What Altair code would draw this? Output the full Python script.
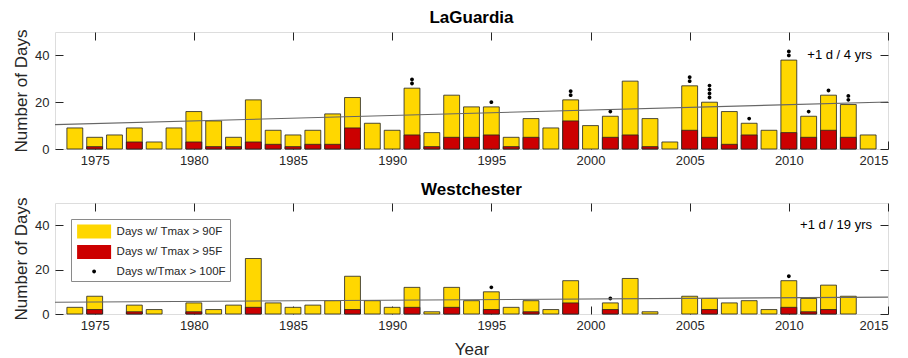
import altair as alt
import pandas as pd

years = list(range(1974, 2015))
station_names = ["LaGuardia", "Westchester"]
series_labels = ["Days w/ Tmax > 90F", "Days w/ Tmax > 95F", "Days w/Tmax > 100F"]
trend_labels = ["+1 d / 4 yrs", "+1 d / 19 yrs"]

lga_90 = [9, 5, 6, 9, 3, 9, 16, 12, 5, 21, 8, 6, 8, 15, 22, 11, 8, 26, 7, 23, 18,
          18, 5, 13, 9, 21, 10, 14, 29, 13, 3, 27, 20, 16, 11, 8, 38, 14, 23, 19, 6]
lga_95 = [0, 1, 0, 3, 0, 0, 3, 1, 1, 3, 2, 1, 2, 2, 9, 0, 0, 6, 1, 5, 5,
          6, 1, 5, 0, 12, 0, 5, 6, 1, 0, 8, 5, 2, 6, 0, 7, 5, 8, 5, 0]
lga_100 = [0, 0, 0, 0, 0, 0, 0, 0, 0, 0, 0, 0, 0, 0, 0, 0, 0, 2, 0, 0, 0,
           1, 0, 0, 0, 2, 0, 1, 0, 0, 0, 2, 4, 0, 1, 0, 2, 1, 1, 2, 0]

wst_90 = [3, 8, 0, 4, 2, 0, 5, 2, 4, 25, 5, 3, 4, 6, 17, 6, 3, 12, 1, 12, 6,
          10, 3, 6, 2, 15, 0, 5, 16, 1, 0, 8, 7, 5, 6, 2, 15, 7, 13, 8, 0]
wst_95 = [0, 2, 0, 1, 0, 0, 1, 0, 0, 3, 0, 0, 0, 0, 2, 0, 0, 3, 0, 3, 0,
          2, 0, 1, 0, 5, 0, 2, 0, 0, 0, 0, 2, 0, 0, 0, 3, 1, 2, 0, 0]
wst_100 = [0, 0, 0, 0, 0, 0, 0, 0, 0, 0, 0, 0, 0, 0, 0, 0, 0, 0, 0, 0, 0,
           1, 0, 0, 0, 0, 0, 1, 0, 0, 0, 0, 0, 0, 0, 0, 1, 0, 0, 0, 0]

trend_years = [1973, 2015]
lga_trend = [10.4, 20.1]
wst_trend = [5.3, 7.6]

x_ticks = [1975, 1980, 1985, 1990, 1995, 2000, 2005, 2010, 2015]
y_ticks = [0, 20, 40]

YELLOW = "#FFD700"
RED = "#CC0000"
DARK = "#262626"
FRAME = "#8a8a8a"
FONT = "Liberation Sans"
W = 833
RECT_PATH = "M-2.125,-0.875H2.125V0.875H-2.125Z"
DOT_PATH = "M-0.24,0A0.24,0.24 0 1,0 0.24,0A0.24,0.24 0 1,0 -0.24,0Z"

color_scale = alt.Scale(domain=series_labels, range=[YELLOW, RED, "#000000"])
shape_scale = alt.Scale(domain=series_labels, range=[RECT_PATH, RECT_PATH, DOT_PATH])
XS = alt.Scale(domain=[1973, 2015], nice=False, zero=False)
YS = alt.Scale(domain=[0, 50], nice=False)

LEG_PROPS = dict(symbolSize=256, symbolOffset=10.6, labelOffset=14,
                 rowPadding=1.5, padding=4, strokeColor=FRAME, fillColor="white",
                 labelFontSize=11.5, labelFont=FONT, labelColor=DARK,
                 symbolStrokeColor="#222", symbolStrokeWidth=0.8, symbolOpacity=1)


def panel(name, v90, v95, v100, trend, tlabel, height, show_legend, show_xtitle, toff):
    bars = pd.DataFrame({"year": years, "v90": v90, "v95": v95})
    dots = pd.DataFrame([{"year": y, "top": t, "k": k}
                         for y, t, n in zip(years, v90, v100) for k in range(n)])
    tdf = pd.DataFrame({"year": trend_years, "val": trend})
    if show_legend:
        leg = alt.Legend(title=None, orient="top-left", offset=16, **LEG_PROPS)
    else:
        leg = None

    xaxis = alt.Axis(values=x_ticks, format="d", orient="bottom", domain=False, grid=False,
                     offset=-8, tickSize=8, tickColor=DARK, labelPadding=5,
                     labelFontSize=13, labelFont=FONT, labelColor=DARK,
                     title="Year" if show_xtitle else None, titleFontSize=17,
                     titleFont=FONT, titleFontWeight="normal", titleColor=DARK, titlePadding=9)
    yaxis = alt.Axis(values=y_ticks, orient="left", domain=False, grid=False,
                     offset=-8, tickSize=8, tickColor=DARK, labelPadding=6,
                     labelFontSize=13, labelFont=FONT, labelColor=DARK,
                     title="Number of Days", titleFontSize=17, titleFont=FONT,
                     titleFontWeight="normal", titleColor=DARK, titlePadding=4)
    xtop = alt.Axis(values=x_ticks, orient="top", domain=False, grid=False, labels=False,
                    offset=-8, tickSize=8, tickColor=DARK, title=None)
    yright = alt.Axis(values=y_ticks, orient="right", domain=False, grid=False, labels=False,
                      offset=-8, tickSize=8, tickColor=DARK, title=None)

    b90 = alt.Chart(bars).transform_filter("datum.v90 > 0").transform_calculate(
        x0="datum.year - 0.4", x1="datum.year + 0.4", base="0",
        series=f"'{series_labels[0]}'"
    ).mark_rect(stroke="#222", strokeWidth=0.8).encode(
        x=alt.X("x0:Q", scale=XS, axis=xaxis),
        x2="x1:Q",
        y=alt.Y("v90:Q", scale=YS, axis=yaxis),
        y2="base:Q",
        color=alt.Color("series:N", scale=color_scale, legend=leg),
    )
    b95 = alt.Chart(bars).transform_filter("datum.v95 > 0").transform_calculate(
        x0="datum.year - 0.4", x1="datum.year + 0.4", base="0",
        series=f"'{series_labels[1]}'"
    ).mark_rect(stroke="#222", strokeWidth=0.8).encode(
        x=alt.X("x0:Q", scale=XS, axis=None),
        x2="x1:Q",
        y=alt.Y("v95:Q", scale=YS, axis=None),
        y2="base:Q",
        color=alt.Color("series:N", scale=color_scale, legend=leg),
    )
    pts = alt.Chart(dots).transform_calculate(
        ypos="datum.top + 2 + 1.7 * datum.k", series=f"'{series_labels[2]}'"
    ).mark_point(filled=True, size=256, opacity=1).encode(
        x=alt.X("year:Q", scale=XS, axis=None),
        y=alt.Y("ypos:Q", scale=YS, axis=None),
        color=alt.Color("series:N", scale=color_scale, legend=leg),
        shape=alt.Shape("series:N", scale=shape_scale, legend=leg),
    )
    line = alt.Chart(tdf).mark_line(color="#666666", strokeWidth=1.1).encode(
        x=alt.X("year:Q", scale=XS, axis=xtop),
        y=alt.Y("val:Q", scale=YS, axis=yright),
    )
    txt = alt.Chart(pd.DataFrame({"label": [tlabel], "yv": [40]})).mark_text(
        align="right", baseline="middle", fontSize=13, font=FONT, color="#000"
    ).encode(
        x=alt.value(W - 16),
        y=alt.Y("yv:Q", scale=YS, axis=None),
        text="label:N",
    )
    return alt.layer(b90, b95, pts, line, txt).resolve_axis(
        x="independent", y="independent"
    ).properties(
        width=W, height=height,
        title=alt.TitleParams(text=name, fontSize=17, fontWeight="bold", font=FONT,
                              color="#000", offset=toff, anchor="middle"),
    )


top = panel(station_names[0], lga_90, lga_95, lga_100, lga_trend, trend_labels[0], 117,
            False, False, 2)
bottom = panel(station_names[1], wst_90, wst_95, wst_100, wst_trend, trend_labels[1], 111,
               True, True, -2)

chart = alt.vconcat(top, bottom, spacing=12).resolve_scale(
    color="independent", shape="independent"
).properties(
    padding={"left": 4, "top": 0, "right": 0, "bottom": 0}
).configure_view(
    stroke=FRAME, strokeWidth=1
).configure_legend(
    **LEG_PROPS
).configure(background="white")

chart.save("out.html", embed_options={"renderer": "svg", "actions": False})
